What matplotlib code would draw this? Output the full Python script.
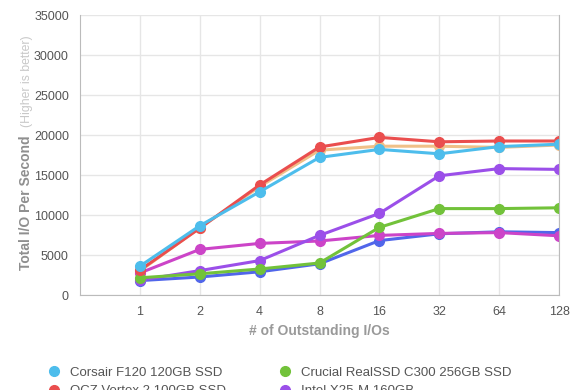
import matplotlib.pyplot as plt
import numpy as np

# data
queue_depths = ['1', '2', '4', '8', '16', '32', '64', '128']
corsair_f120 = [3600, 8650, 12900, 17200, 18200, 17650, 18550, 18850]
ocz_vertex2 = [3100, 8350, 13750, 18500, 19700, 19150, 19250, 19250]
ocz_agility2 = [3000, 8400, 13550, 18100, 18600, 18600, 18450, 18750]
crucial_c300 = [2150, 2650, 3250, 4000, 8450, 10800, 10800, 10900]
intel_x25m = [1850, 3050, 4300, 7450, 10200, 14900, 15800, 15700]
kingston_v = [2750, 5700, 6450, 6750, 7450, 7700, 7800, 7400]
wd_blue = [1800, 2250, 2900, 3900, 6800, 7650, 7900, 7800]

names = ['Corsair F120 120GB SSD', 'Crucial RealSSD C300 256GB SSD',
         'OCZ Vertex 2 100GB SSD', 'Intel X25-M 160GB',
         'OCZ Agility 2 100GB SSD', 'Kingston SSDNow V 128GB',
         'Western Digital SiliconEdge Blue 256GB']


def main():
    plt.rcParams['font.family'] = ['Liberation Sans', 'DejaVu Sans']
    fig = plt.figure(figsize=(5.8, 3.9), dpi=100)
    ax = fig.add_axes([80 / 580, 95 / 390, 479 / 580, 280 / 390])
    x = np.arange(len(queue_depths))

    series = {
        'OCZ Agility 2 100GB SSD': (ocz_agility2, '#f0c088'),
        'Western Digital SiliconEdge Blue 256GB': (wd_blue, '#5166ea'),
        'Kingston SSDNow V 128GB': (kingston_v, '#cc44c8'),
        'Intel X25-M 160GB': (intel_x25m, '#9b4fe9'),
        'Crucial RealSSD C300 256GB SSD': (crucial_c300, '#72c23a'),
        'OCZ Vertex 2 100GB SSD': (ocz_vertex2, '#ea4e4e'),
        'Corsair F120 120GB SSD': (corsair_f120, '#4dbdec'),
    }
    handles = {}
    for name, (vals, col) in series.items():
        ln, = ax.plot(x, vals, color=col, lw=2.2, marker='o', ms=7,
                      mec=col, mfc=col, label=name, solid_capstyle='round')
        handles[name] = ln

    ax.set_xlim(-1, 7)
    ax.set_ylim(0, 35000)
    ax.set_xticks(x)
    ax.set_xticklabels(queue_depths)
    ax.set_yticks(np.arange(0, 35001, 5000))
    ax.tick_params(length=0, labelsize=9, colors='#555555', pad=8)
    ax.grid(True, color='#e6e6e6', lw=1)
    ax.set_axisbelow(True)
    for s in ['left', 'bottom', 'right']:
        ax.spines[s].set_color('#bbbbbb')
    ax.spines['top'].set_visible(False)

    ax.set_xlabel('# of Outstanding I/Os', fontsize=10, color='#999999',
                  fontweight='bold', labelpad=4)
    fig.text(26 / 580, 1 - 270 / 390, 'Total I/O Per Second', rotation=90,
             fontsize=10, color='#8f8f8f', fontweight='bold',
             ha='center', va='bottom')
    fig.text(27 / 580, 1 - 127 / 390, '(Higher is better)', rotation=90,
             fontsize=8.8, color='#c8c8c8', ha='center', va='bottom')

    # two legend columns, the lower rows run off the bottom like the reference
    cols = [[names[0], names[2], names[4], names[6]],
            [names[1], names[3], names[5]]]
    for xpos, col_names in zip([42, 273], cols):
        leg = fig.legend([handles[n] for n in col_names], col_names,
                         loc='upper left',
                         bbox_to_anchor=(xpos / 580, 1 - 355 / 390),
                         frameon=False, fontsize=9.5, handlelength=0,
                         handletextpad=1.2, labelspacing=0.45)
        for t in leg.get_texts():
            t.set_color('#555555')
        for h in leg.legend_handles:
            h.set_linestyle('none')

    fig.savefig('out.png', dpi=100)


if __name__ == "__main__":
    main()
